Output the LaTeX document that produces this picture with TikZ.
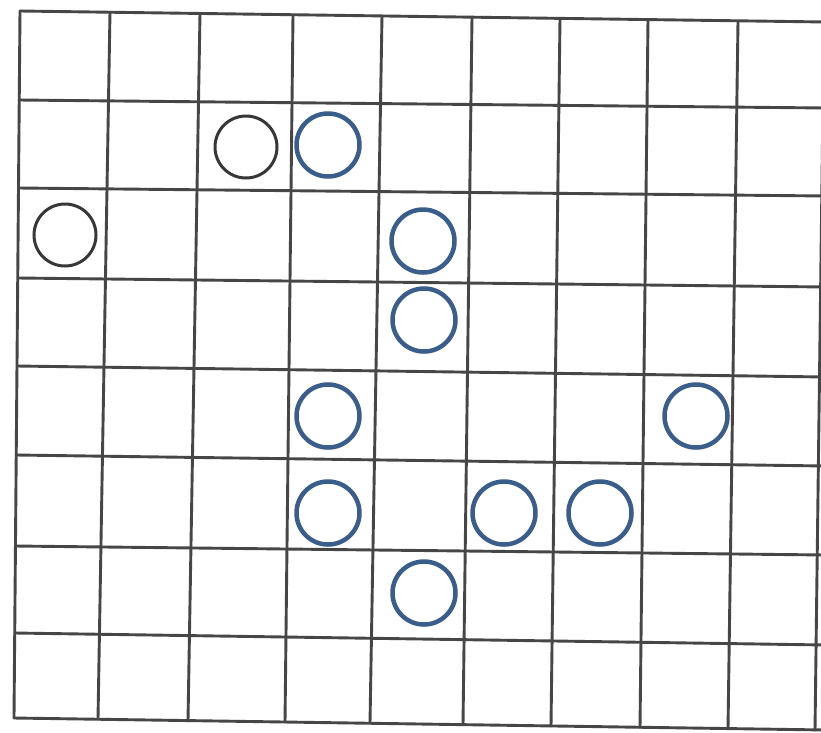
\documentclass[tikz,border=0pt]{standalone}
\definecolor{gridc}{RGB}{70,70,70}
\definecolor{bluec}{RGB}{58,94,140}
\definecolor{grayc}{RGB}{55,55,55}
\begin{document}
\begin{tikzpicture}[x=1pt,y=-1pt,
  gridline/.style={draw=gridc,line width=2.9pt,line cap=round},
  bluering/.style={circle,draw=bluec,line width=4.5pt,minimum size=63pt,inner sep=0pt},
  grayring/.style={circle,draw=grayc,line width=3pt,minimum size=62pt,inner sep=0pt}]
\useasboundingbox (0,0) rectangle (821,732);
\clip (0,0) rectangle (821,732);
\fill[white] (0,0) rectangle (821,732);
% horizontal lines: left x / left y / right y
\foreach \x/\l/\r in {20/11/22,19/100/108,18.5/188/196,18/278/287,17/366/377,16/455/466,15.5/546/555,15/633/645,14/718/730}
  \draw[gridline] (\x,\l) -- (826,\r);
% vertical lines: top x / top y / bottom x / bottom y
\foreach \t/\ty/\b/\by in {20/11/14/718,110/12/98/719,200/13.5/188/720.6,293/15/285/722,382/16/370/723,472/17/463/724.7,560/18.5/551/726,648/19.5/640/727.4,738/21/728/728.7,824/22/815/730}
  \draw[gridline] (\t,\ty) -- (\b,\by);
% gray circles
\node[grayring] (g1) at (246,147) {};
\node[grayring] (g2) at (65,235) {};
% blue circles
\node[bluering] (b1) at (328,145) {};
\node[bluering] (b2) at (423,241) {};
\node[bluering] (b3) at (424,320) {};
\node[bluering] (b4) at (328,416) {};
\node[bluering] (b5) at (696,416) {};
\node[bluering] (b6) at (328,513) {};
\node[bluering] (b7) at (504,513) {};
\node[bluering] (b8) at (600,513) {};
\node[bluering] (b9) at (424,593) {};
\end{tikzpicture}
\end{document}
